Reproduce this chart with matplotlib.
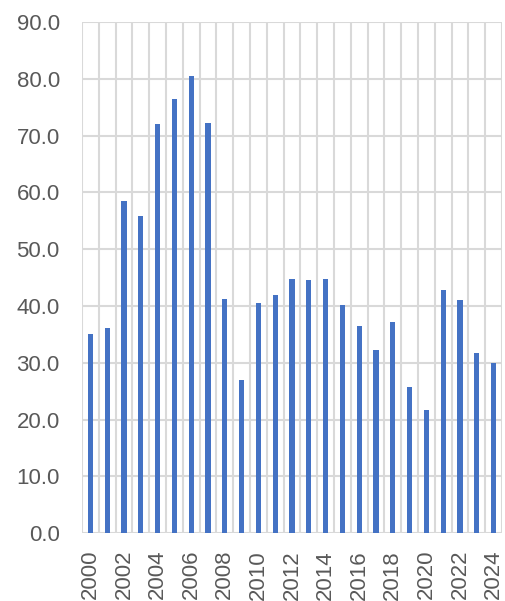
import matplotlib.pyplot as plt
import numpy as np

years = list(range(2000, 2025))
values = [35.0, 36.2, 58.5, 55.8, 72.0, 76.5, 80.5, 72.3, 41.2, 27.0,
          40.5, 42.0, 44.7, 44.5, 44.8, 40.2, 36.5, 32.2, 37.2, 25.7,
          21.7, 42.8, 41.0, 31.7, 30.0]
tick_years = years[::2]
y_ticks = np.arange(0, 91, 10)

plt.rcParams['font.family'] = ['Liberation Sans', 'DejaVu Sans']

fig = plt.figure(figsize=(5.05, 6.01), dpi=100)
ax = fig.add_axes([82 / 505, 1 - 533.3 / 601, 420 / 505, (533.3 - 22) / 601])

x = np.arange(len(years))
ax.bar(x, values, width=0.32, color='#4472C4', zorder=3)

ax.set_xlim(-0.5, len(years) - 0.5)
ax.set_ylim(0, 90)

# grid lines on category boundaries and every 10 units
for b in np.arange(-0.5, len(years), 1.0):
    ax.axvline(b, color='#D9D9D9', lw=1.5, zorder=1)
ax.set_yticks(y_ticks)
ax.set_yticklabels([f'{v:.1f}' for v in y_ticks])
ax.yaxis.grid(True, color='#D9D9D9', lw=1.5, zorder=1)

ax.set_xticks([years.index(y) for y in tick_years])
ax.set_xticklabels([str(y) for y in tick_years], rotation=90)

for s in ax.spines.values():
    s.set_visible(False)
ax.tick_params(length=0, colors='#595959', labelsize=16)
ax.tick_params(axis='y', pad=16)
ax.tick_params(axis='x', pad=12)

fig.savefig('out.png', dpi=100)
